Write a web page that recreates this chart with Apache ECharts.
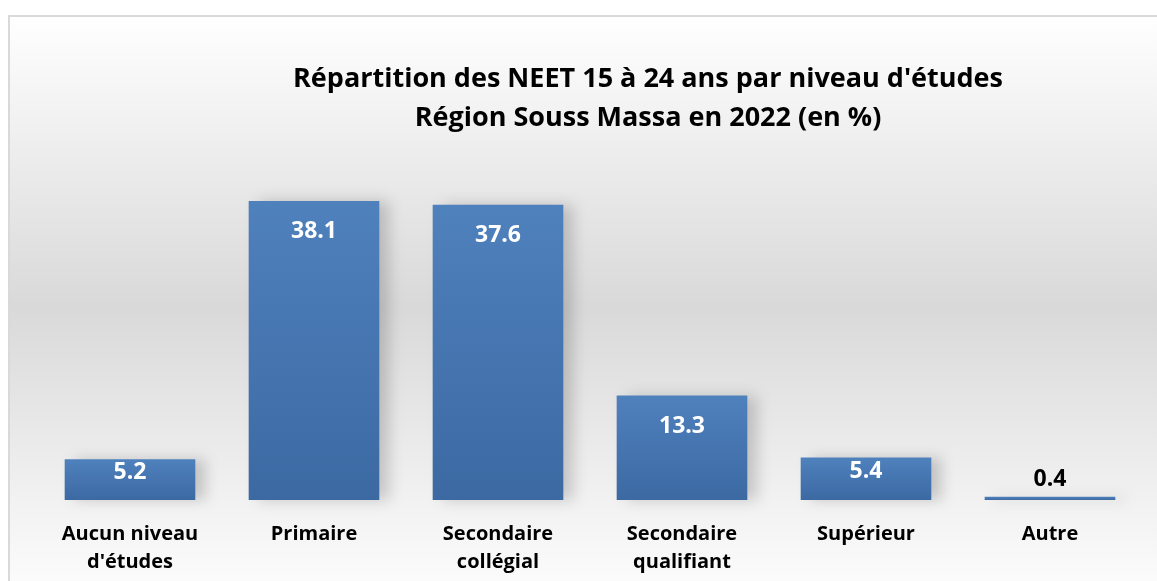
<!DOCTYPE html>
<html>
<head>
<meta charset="utf-8">
<script src="https://cdn.jsdelivr.net/npm/echarts@6/dist/echarts.min.js"></script>
<style>
  html, body { margin: 0; padding: 0; background: #fff; }
  #chart { width: 1157px; height: 581px; }
</style>
</head>
<body>
<div id="chart"></div>
<script>
const categories = ['Aucun niveau\nd\'études', 'Primaire', 'Secondaire\ncollégial', 'Secondaire\nqualifiant', 'Supérieur', 'Autre']
const values = [5.2, 38.1, 37.6, 13.3, 5.4, 0.4]

const chart = echarts.init(document.getElementById('chart'))
const font = '"Open Sans", "Noto Sans", sans-serif'

const barColor = new echarts.graphic.LinearGradient(0, 0, 0, 1, [
  { offset: 0, color: '#4f81bd' },
  { offset: 1, color: '#3c69a2' }
])

// small bars get their label nearer the top, the tiny one above
function labelFor(v) {
  if (v < 1) return { position: 'top', color: '#000', distance: 6 }
  if (v < 8) return { position: 'insideTop', distance: 2 }
  return { position: 'insideTop', distance: 19 }
}

chart.setOption({
  backgroundColor: '#fff',
  graphic: [{
    type: 'rect',
    left: 8, top: 15, z: -10,
    shape: { width: 1160, height: 580 },
    style: {
      fill: new echarts.graphic.LinearGradient(0, 0, 0, 1, [
        { offset: 0, color: '#ffffff' },
        { offset: 0.5, color: '#d9d9d9' },
        { offset: 0.8, color: '#efefef' },
        { offset: 1, color: '#fdfdfd' }
      ]),
      stroke: '#d9d9d9',
      lineWidth: 2
    }
  }],
  title: {
    text: 'Répartition des NEET 15 à 24 ans par niveau d\'études\nRégion Souss Massa en 2022 (en %)',
    left: 643,
    top: 55,
    textAlign: 'center',
    textStyle: { fontFamily: font, fontWeight: 'bold', fontSize: 27, lineHeight: 39, color: '#000' }
  },
  grid: { left: 38, right: 15, top: 186, bottom: 81 },
  xAxis: {
    type: 'category',
    data: categories,
    axisLine: { show: false },
    axisTick: { show: false },
    axisLabel: {
      margin: 20,
      fontFamily: font, fontWeight: 'bold', fontSize: 20, lineHeight: 28, color: '#000'
    }
  },
  yAxis: {
    type: 'value',
    min: 0, max: 40,
    show: false,
    splitLine: { show: false }
  },
  series: [{
    type: 'bar',
    barCategoryGap: '29%',
    data: values.map(v => ({ value: v, label: labelFor(v) })),
    itemStyle: {
      color: barColor,
      shadowColor: 'rgba(0,0,0,0.18)',
      shadowBlur: 14,
      shadowOffsetX: 10
    },
    label: {
      show: true,
      fontFamily: font, fontWeight: 'bold', fontSize: 23, color: '#fff'
    }
  }]
})
</script>
</body>
</html>
